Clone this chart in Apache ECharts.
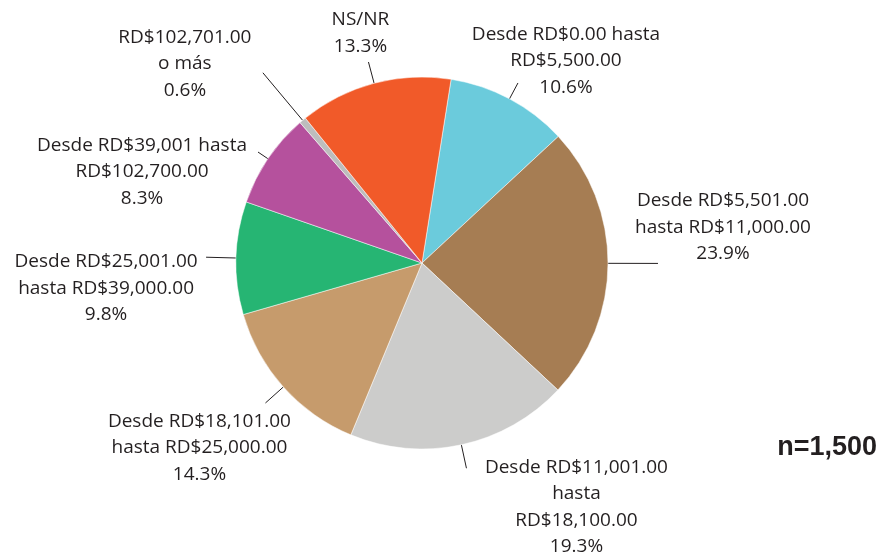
<!DOCTYPE html>
<html>
<head>
<meta charset="utf-8">
<script src="https://cdn.jsdelivr.net/npm/echarts@6/dist/echarts.min.js"></script>
<style>html,body{margin:0;padding:0;background:#fff}#c{width:885px;height:554px}</style>
</head>
<body>
<div id="c"></div>
<script>
const categories = [
  'Desde RD$0.00 hasta\nRD$5,500.00',
  'Desde RD$5,501.00\nhasta RD$11,000.00',
  'Desde RD$11,001.00\nhasta\nRD$18,100.00',
  'Desde RD$18,101.00\nhasta RD$25,000.00',
  'Desde RD$25,001.00\nhasta RD$39,000.00',
  'Desde RD$39,001 hasta\nRD$102,700.00',
  'RD$102,701.00\no más',
  'NS/NR'
];
const values = [10.6, 23.9, 19.3, 14.3, 9.8, 8.3, 0.6, 13.3];
const sampleLabel = 'n=1,500';

const colors = ['#6BCBDC', '#A67D53', '#CCCCCB', '#C69B6C', '#26B573', '#B5519D', '#BDBDBD', '#F15A29'];
const lineLen = [18, 50, 24, 24, 30, 12, 62, 22];
const labelOff = [[48, -22], [65, -36], [110, 39], [-66, 45], [-100, 31], [-116, 20], [-78, -9], [-8, -29]];

const chart = echarts.init(document.getElementById('c'));
chart.setOption({
  animation: false,
  title: {
    text: sampleLabel,
    right: 3, top: 429,
    textStyle: { fontFamily: 'Liberation Sans', fontWeight: 'bold', fontSize: 27, color: '#231F20' }
  },
  series: [{
    type: 'pie',
    center: [422, 263],
    radius: 186,
    startAngle: 81,
    clockwise: true,
    avoidLabelOverlap: false,
    itemStyle: { borderColor: '#fff', borderWidth: 0.5 },
    label: {
      show: true,
      position: 'outside',
      fontFamily: 'Open Sans',
      fontSize: 19,
      lineHeight: 26.5,
      color: '#231F20',
      align: 'center',
      formatter: p => p.name + '\n' + p.value.toFixed(1) + '%'
    },
    labelLine: { show: true, length: 20, length2: 0, smooth: false, lineStyle: { color: '#231F20', width: 1 } },
    labelLayout: function (p) {
      const pts = p.labelLinePoints;
      const end = pts[pts.length - 1];
      const o = labelOff[p.dataIndex];
      return { x: end[0] + o[0], y: end[1] + o[1], align: 'center', verticalAlign: 'middle', labelLinePoints: pts };
    },
    emphasis: { disabled: true },
    data: values.map((v, i) => ({
      name: categories[i],
      value: v,
      itemStyle: { color: colors[i] },
      labelLine: { length: lineLen[i] }
    }))
  }]
});
</script>
</body>
</html>
